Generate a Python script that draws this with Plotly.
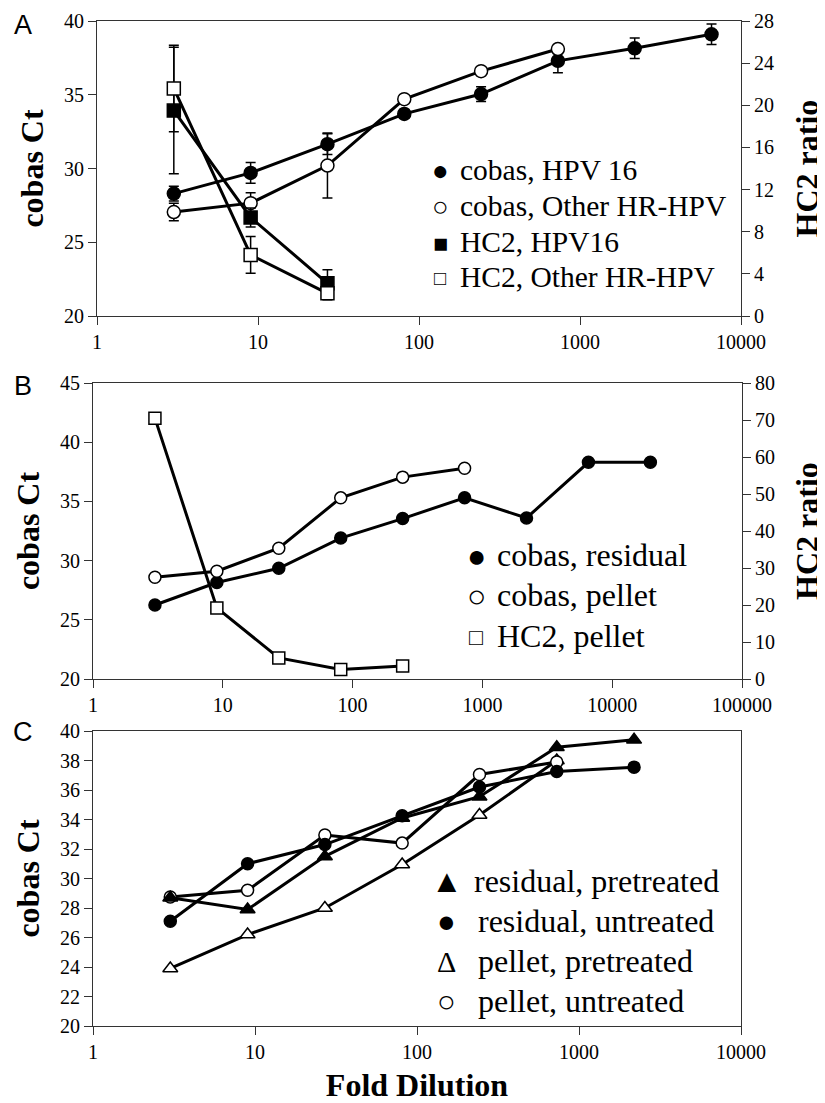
import plotly.graph_objects as go

# ---------------- Data ----------------
# Panel A
dil_A = [3, 9, 27, 81, 243, 729, 2187, 6561]
cobas_hpv16 = [28.3, 29.7, 31.65, 33.7, 35.05, 37.3, 38.15, 39.1]
cobas_hpv16_err = [0.5, 0.7, 0.7, 0.3, 0.5, 0.8, 0.7, 0.7]
dil_A_other = [3, 9, 27, 81, 243, 729]
cobas_other = [27.05, 27.65, 30.2, 34.7, 36.6, 38.1]
cobas_other_err = [0.6, 0.7, 2.2, 0.2, 0.3, 0.3]
dil_A_hc2 = [3, 9, 27]
hc2_hpv16 = [19.5, 9.35, 3.1]
hc2_hpv16_err = [6.0, 0.9, 1.3]
hc2_other = [21.6, 5.8, 2.15]
hc2_other_err = [4.1, 1.75, 0.6]
legend_A = ["cobas, HPV 16", "cobas, Other HR-HPV", "HC2, HPV16", "HC2, Other HR-HPV"]
glyphs_A = ["●", "○", "■", "□"]

# Panel B
dil_B = [3, 9, 27, 81, 243, 729, 2187, 6561, 19683]
cobas_residual = [26.25, 28.15, 29.35, 31.9, 33.55, 35.3, 33.6, 38.3, 38.3]
dil_B_pellet = [3, 9, 27, 81, 243, 729]
cobas_pellet = [28.6, 29.1, 31.05, 35.3, 37.05, 37.8]
dil_B_hc2 = [3, 9, 27, 81, 243]
hc2_pellet = [70.5, 19.2, 5.7, 2.6, 3.5]
legend_B = ["cobas, residual", "cobas, pellet", "HC2, pellet"]
glyphs_B = ["●", "○", "□"]

# Panel C
dil_C = [3, 9, 27, 81, 243, 729, 2187]
residual_pretreated = [28.7, 27.9, 31.5, 34.1, 35.55, 38.9, 39.4]
residual_untreated = [27.1, 31.0, 32.3, 34.25, 36.2, 37.25, 37.55]
dil_C_pellet = [3, 9, 27, 81, 243, 729]
pellet_pretreated = [23.9, 26.2, 28.0, 30.95, 34.3, 38.0]
pellet_untreated = [28.75, 29.2, 32.95, 32.4, 37.05, 37.9]
legend_C = ["residual, pretreated", "residual, untreated", "pellet, pretreated", "pellet, untreated"]
glyphs_C = ["▲", "●", "Δ", "○"]

x_ticks_4 = [1, 10, 100, 1000, 10000]
x_ticks_5 = [1, 10, 100, 1000, 10000, 100000]

SERIF = "Liberation Serif"
SANS = "Liberation Sans"
AX = "#333333"

# page body has an 8px margin; figure is sized so the page fills the window
OFF = 8
W, H = 825 - OFF, 1103 - OFF
def px(x):
    return (x - OFF) / W
def py(y):
    return 1 - (y - OFF) / H

fig = go.Figure()

def marker(symbol, filled, size):
    return dict(symbol=symbol, size=size,
                color="black" if filled else "white",
                line=dict(color="black", width=1.5))

def add_series(x, y, name, sym, filled, size, xa, ya, err=None):
    tr = go.Scatter(x=x, y=y, name=name, mode="lines+markers", xaxis=xa, yaxis=ya,
                    line=dict(color="black", width=3),
                    marker=marker(sym, filled, size), showlegend=False,
                    cliponaxis=False)
    if err is not None:
        tr.error_y = dict(type="data", array=err, visible=True,
                          color="black", thickness=1.5, width=5)
    fig.add_trace(tr)

# Panel A
add_series(dil_A_hc2, hc2_hpv16, legend_A[2], "square", True, 13, "x", "y2", hc2_hpv16_err)
add_series(dil_A_hc2, hc2_other, legend_A[3], "square", False, 13, "x", "y2", hc2_other_err)
add_series(dil_A, cobas_hpv16, legend_A[0], "circle", True, 13, "x", "y", cobas_hpv16_err)
add_series(dil_A_other, cobas_other, legend_A[1], "circle", False, 13, "x", "y", cobas_other_err)

# Panel B
add_series(dil_B_hc2, hc2_pellet, legend_B[2], "square", False, 12, "x2", "y4")
add_series(dil_B, cobas_residual, legend_B[0], "circle", True, 12, "x2", "y3")
add_series(dil_B_pellet, cobas_pellet, legend_B[1], "circle", False, 12, "x2", "y3")

# Panel C
add_series(dil_C_pellet, pellet_pretreated, legend_C[2], "triangle-up", False, 13, "x3", "y5")
add_series(dil_C_pellet, pellet_untreated, legend_C[3], "circle", False, 12, "x3", "y5")
add_series(dil_C, residual_untreated, legend_C[1], "circle", True, 12, "x3", "y5")
add_series(dil_C, residual_pretreated, legend_C[0], "triangle-up", True, 13, "x3", "y5")

def xd(a, b):
    return [px(a), px(b)]
def yd(top, bottom):
    return [py(bottom), py(top)]

tickfont = dict(family=SERIF, size=20, color="black")
titlefont = dict(family=SERIF, size=32, color="black", weight="bold")

def xaxis(domain, anchor, rng, vals, title=None):
    d = dict(type="log", domain=domain, anchor=anchor, range=rng,
             tickvals=vals, ticktext=[str(v) for v in vals],
             showline=True, linecolor=AX, linewidth=1, mirror=True,
             ticks="outside", ticklen=8, tickcolor=AX, tickwidth=1,
             showgrid=False, zeroline=False, tickfont=tickfont, automargin=False)
    if title:
        d["title"] = dict(text=title, font=titlefont, standoff=16)
    return d

def yaxis(domain, anchor, rng, dtick, title, side="left", overlaying=None,
          mirror=False, standoff=10):
    d = dict(domain=domain, anchor=anchor, range=rng, dtick=dtick, tick0=0,
             showline=True, linecolor=AX, linewidth=1, mirror=mirror,
             ticks="outside", ticklen=8, tickcolor=AX, tickwidth=1,
             showgrid=False, zeroline=False, tickfont=tickfont, side=side,
             automargin=False,
             title=dict(text=title, font=titlefont, standoff=standoff))
    if overlaying:
        d["overlaying"] = overlaying
    return d

dA_x = xd(97, 741); dA_y = yd(21, 316)
dB_x = xd(93, 742); dB_y = yd(383, 679)
dC_x = xd(93, 741); dC_y = yd(731, 1026)

annotations = []
def text_ann(text, x, y, size, family=SERIF, xanchor="left"):
    annotations.append(dict(text=text, x=px(x), y=py(y), xref="paper", yref="paper",
                            xanchor=xanchor, yanchor="middle", showarrow=False,
                            font=dict(family=family, size=size, color="black")))

# panel letters
for letter, (lx, ly) in zip(["A", "B", "C"], [(23, 25), (23, 386), (23, 732)]):
    text_ann(letter, lx, ly, 27, family=SANS, xanchor="center")

# legend A (text-style keys)
rows_A = [170, 206, 242, 277]
glyph_size_A = [28, 28, 25, 20]
for g, t, y, gs in zip(glyphs_A, legend_A, rows_A, glyph_size_A):
    text_ann(g, 440, y + 1, gs, xanchor="center")
    text_ann(t, 458, y, 29.5)

# legend B
rows_B = [555, 595, 636]
glyph_size_B = [32, 32, 23]
for g, t, y, gs in zip(glyphs_B, legend_B, rows_B, glyph_size_B):
    text_ann(g, 476, y + 1, gs, xanchor="center")
    text_ann(t, 495, y, 32)

# legend C
rows_C = [881, 921, 961, 1001]
glyph_size_C = [32, 31, 30, 31]
text_x_C = [472, 476, 476, 476]
for g, t, y, gs, tx in zip(glyphs_C, legend_C, rows_C, glyph_size_C, text_x_C):
    text_ann(g, 447, y, gs, xanchor="center")
    text_ann(t, tx, y, 32)

fig.update_layout(
    width=W, height=H, margin=dict(l=0, r=0, t=0, b=0, autoexpand=False),
    paper_bgcolor="white", plot_bgcolor="white", showlegend=False,
    xaxis=xaxis(dA_x, "y", [0, 4], x_ticks_4),
    yaxis=yaxis(dA_y, "x", [20, 40], 5, "cobas Ct"),
    yaxis2=yaxis(dA_y, "x", [0, 28], 4, "HC2 ratio", side="right", overlaying="y", standoff=24),
    xaxis2=xaxis(dB_x, "y3", [0, 5], x_ticks_5),
    yaxis3=yaxis(dB_y, "x2", [20, 45], 5, "cobas Ct"),
    yaxis4=yaxis(dB_y, "x2", [0, 80], 10, "HC2 ratio", side="right", overlaying="y3", standoff=24),
    xaxis3=xaxis(dC_x, "y5", [0, 4], x_ticks_4, title="Fold Dilution"),
    yaxis5=yaxis(dC_y, "x3", [20, 40], 2, "cobas Ct", mirror=True),
    annotations=annotations,
)

fig.write_html("out.html")
